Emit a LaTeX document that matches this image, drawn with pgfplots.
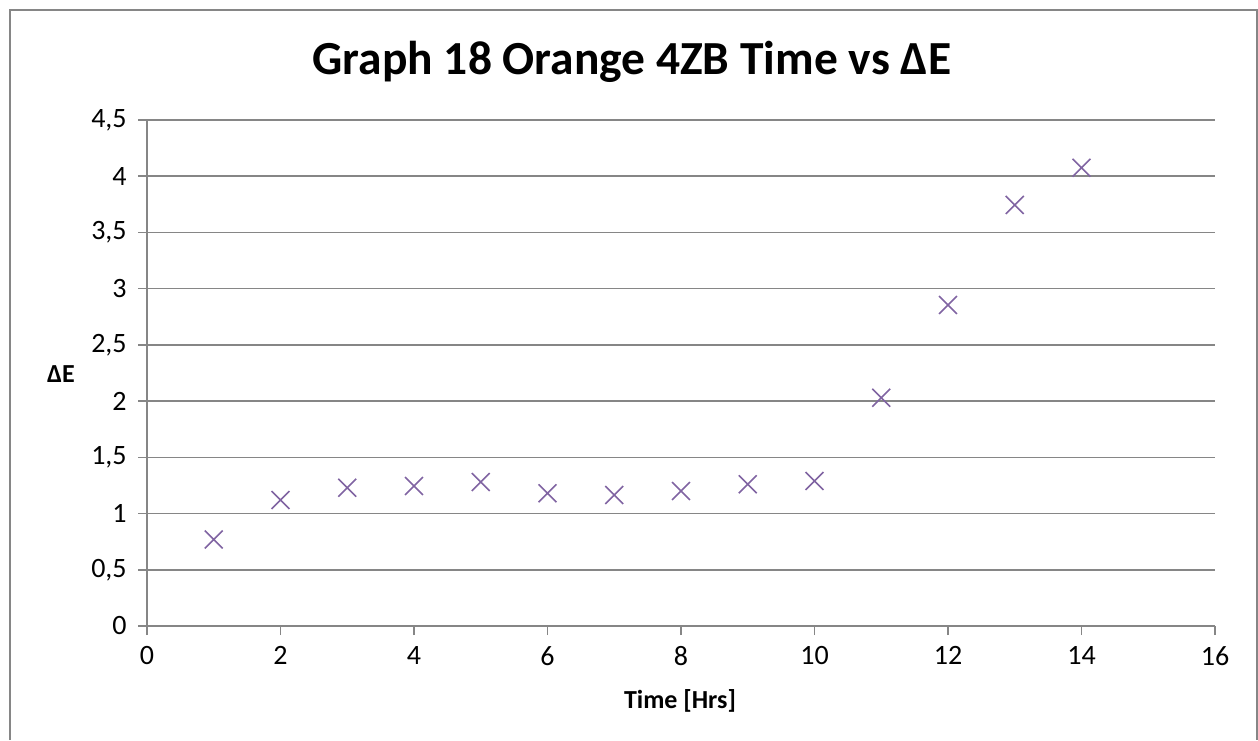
\documentclass[border=0pt]{standalone}
\usepackage{pgfplots}
\pgfplotsset{compat=1.18}
\usepackage{fontspec}
\setmainfont{Carlito}
\definecolor{gridgray}{RGB}{134,134,134}
\definecolor{mkpurple}{RGB}{128,100,162}
\begin{document}
\begin{tikzpicture}[x=0.75pt,y=0.75pt]
\path[use as bounding box] (0,0) rectangle (1258,740);
\draw[gridgray,line width=1.1pt] (10,0) -- (10,730) -- (1257,730) -- (1257,0);
\begin{axis}[
  at={(110.25pt,85.5pt)}, anchor=south west,
  x=, y=,
  scale only axis, width=801pt, height=379.5pt,
  xmin=0, xmax=16, ymin=0, ymax=4.5,
  xtick={0,2,...,16}, ytick={0,0.5,...,4.5},
  axis x line*=bottom, axis y line*=left,
  axis line style={gridgray,line width=1.2pt},
  ymajorgrids, grid style={gridgray,line width=1.2pt},
  tick align=outside, major tick length=6.75pt,
  tick style={gridgray,line width=1.2pt},
  /pgf/number format/assume math mode=true,
  /pgf/number format/use comma,
  /pgf/number format/fixed,
  ticklabel style={font=\fontsize{21}{24}\selectfont, text=black},
  yticklabel style={xshift=-5pt},
  xticklabel style={yshift=-5pt},
  clip=false,
]
\addplot[only marks, mark=x, mark size=9.5pt, mkpurple, line width=1.2pt] coordinates {
(1,0.77) (2,1.12) (3,1.23) (4,1.245) (5,1.28) (6,1.18) (7,1.165) (8,1.20) (9,1.26) (10,1.29) (11,2.03) (12,2.855) (13,3.745) (14,4.075)
};
\end{axis}
\node[anchor=base, font=\bfseries\fontsize{35.6}{40}\selectfont] at (632,665) {Graph 18 Orange 4ZB Time vs ΔE};
\node[anchor=base, font=\bfseries\fontsize{19.5}{22}\selectfont] at (680,32) {Time [Hrs]};
\node[anchor=base, font=\bfseries\fontsize{19.5}{22}\selectfont] at (61,357) {ΔE};
\end{tikzpicture}
\end{document}
